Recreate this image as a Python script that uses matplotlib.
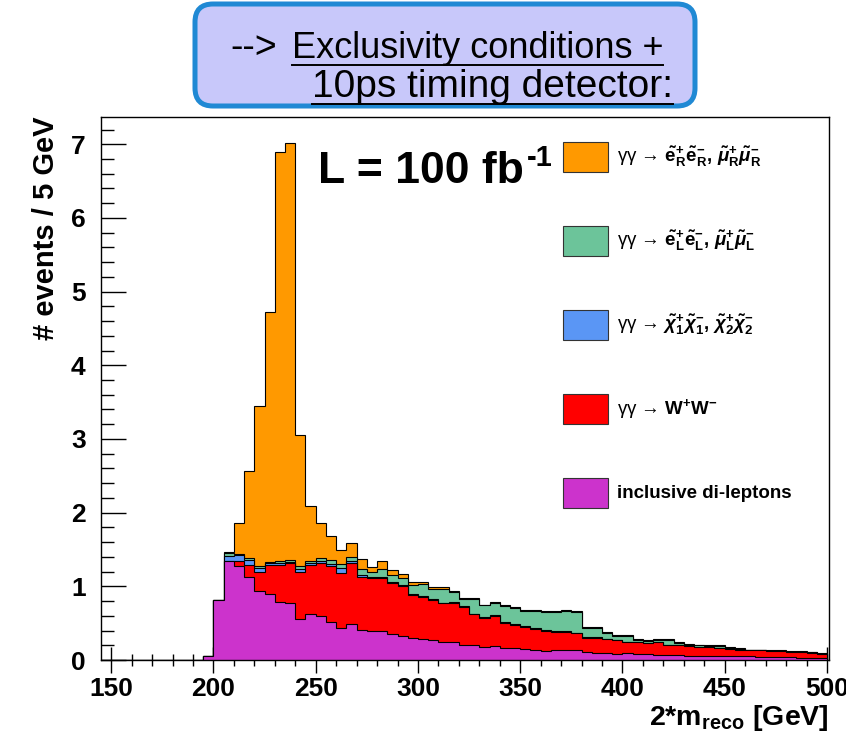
"""Stacked 2*m_reco spectrum after exclusivity cuts + 10ps timing (L = 100 fb^-1)."""

import numpy as np
import matplotlib

matplotlib.use("Agg")
import matplotlib.pyplot as plt  # noqa: E402
from matplotlib.patches import FancyBboxPatch, Rectangle  # noqa: E402
from matplotlib.ticker import MultipleLocator  # noqa: E402

plt.rcParams["font.family"] = ["Liberation Sans", "DejaVu Sans"]
plt.rcParams["font.weight"] = "bold"
plt.rcParams["axes.labelweight"] = "bold"
plt.rcParams["mathtext.fontset"] = "custom"
plt.rcParams["mathtext.rm"] = "Liberation Sans"
plt.rcParams["mathtext.bf"] = "Liberation Sans:bold"
plt.rcParams["mathtext.it"] = "Liberation Sans:italic"

# bins of 5 GeV, 145 -> 500
BIN_LO, BIN_HI, BIN_W = 145, 500, 5

# events / 5 GeV per process (bins 145..495)
dilep = [0, 0, 0, 0, 0, 0, 0, 0, 0, 0,
         .06, .82, 1.34, 1.27, 1.13, .93, .90, .79, .77, .55,
         .63, .60, .52, .43, .49, .41, .39, .39, .35, .32,
         .30, .29, .27, .25, .25, .21, .20, .18, .19, .16,
         .16, .15, .14, .12, .14, .13, .13, .11, .10, .09,
         .08, .09, .08, .08, .07, .07, .07, .06, .06, .06,
         .05, .05, .05, .05, .04, .04, .04, .04, .03, .03, .03]
ww = [0, 0, 0, 0, 0, 0, 0, 0, 0, 0,
      0, 0, .01, .08, .16, .27, .39, .50, .54, .65,
      .66, .72, .75, .75, .82, .72, .72, .72, .69, .68,
      .58, .57, .55, .52, .53, .51, .42, .39, .41, .34,
      .32, .30, .28, .28, .24, .25, .23, .19, .20, .19,
      .19, .15, .16, .15, .17, .14, .14, .13, .12, .11,
      .11, .10, .09, .08, .09, .08, .08, .07, .08, .07, .05]
chargino = [0, 0, 0, 0, 0, 0, 0, 0, 0, 0,
            0, 0, .06, .07, .07, .05, .02, .02, .02, .04,
            .02, .03, .03, .07, .03, .03, .02, .02, .02, .02,
            .02, .01, .01, .01, .01, .01, .01, .01, .01, .01,
            .01, .01, .01, .01, .01, .01, .01, .01, .01, .01,
            0, 0, 0, 0, 0, 0, 0, 0, 0, 0,
            0, 0, 0, 0, 0, 0, 0, 0, 0, 0, 0]
slep_L = [0, 0, 0, 0, 0, 0, 0, 0, 0, 0,
          0, 0, .04, .02, .02, .02, .02, .03, .03, .03,
          .04, .03, .06, .05, .06, .08, .07, .11, .09, .09,
          .12, .16, .14, .19, .13, .10, .20, .16, .17, .22,
          .22, .21, .24, .24, .26, .28, .28, .13, .13, .08,
          .06, .09, .03, .03, .03, .06, .02, .02, .02, .02,
          .03, .01, .01, .005, .005, .005, .005, .005, .005, .005, .005]
slep_R = [0, 0, 0, 0, 0, 0, 0, 0, 0, 0,
          0, 0, .02, .42, 1.18, 2.18, 3.39, 5.56, 5.66, 1.78,
          .74, .48, .32, .19, .19, .13, .06, .10, .07, .06,
          .04, .03, .02, .02, .01, .01, .01, .01, .01, .01,
          .01, .01, .01, .01, .01, .01, .01, .01, .01, .01,
          .01, .01, .01, .01, .01, .01, .01, .01, .01, .01,
          .01, .01, .01, .005, .005, .005, .005, .005, .005, .005, .005]

# stack order bottom -> top: (values, colour, legend label, label weight)
LAYERS = [
    (dilep, "#CC33CC", "inclusive di-leptons", "bold"),
    (ww, "#FF0000", r"γγ → $\mathbf{W}^{\mathbf{+}}\mathbf{W}^{\mathbf{-}}$", "normal"),
    (chargino, "#5A96F5",
     r"γγ → $\tilde{\chi}^{+}_{1}\tilde{\chi}^{-}_{1},\,\tilde{\chi}^{+}_{2}\tilde{\chi}^{-}_{2}$", "normal"),
    (slep_L, "#6CC49A",
     r"γγ → $\tilde{\mathbf{e}}^{+}_{\mathbf{L}}\tilde{\mathbf{e}}^{-}_{\mathbf{L}},"
     r"\,\tilde{\mu}^{+}_{\mathbf{L}}\tilde{\mu}^{-}_{\mathbf{L}}$", "normal"),
    (slep_R, "#FF9900",
     r"γγ → $\tilde{\mathbf{e}}^{+}_{\mathbf{R}}\tilde{\mathbf{e}}^{-}_{\mathbf{R}},"
     r"\,\tilde{\mu}^{+}_{\mathbf{R}}\tilde{\mu}^{-}_{\mathbf{R}}$", "normal"),
]


def main() -> None:
    W, H = 846, 745
    fig = plt.figure(figsize=(W / 100, H / 100), dpi=100)
    ax = fig.add_axes([101 / W, 1 - 660 / H, 728 / W, 543 / H])

    edges = np.arange(BIN_LO, BIN_HI + BIN_W, BIN_W)
    cum = np.cumsum(np.array([l[0] for l in LAYERS], dtype=float), axis=0)
    # ROOT style: draw the partial sums from the top one down, each filled from 0
    for k in range(len(LAYERS) - 1, -1, -1):
        ax.stairs(cum[k], edges, baseline=0, fill=True, facecolor=LAYERS[k][1],
                  edgecolor="black", linewidth=0.8)

    ax.set_xlim(145, 501)
    ax.set_ylim(0, 7.37)
    ax.set_axisbelow(True)
    ax.xaxis.set_major_locator(MultipleLocator(50))
    ax.xaxis.set_minor_locator(MultipleLocator(10))
    ax.yaxis.set_major_locator(MultipleLocator(1))
    ax.yaxis.set_minor_locator(MultipleLocator(0.2))
    ax.tick_params(axis="x", which="major", direction="inout", length=19, width=1, labelsize=19, pad=3)
    ax.tick_params(axis="x", which="minor", direction="inout", length=9, width=1)
    ax.tick_params(axis="y", which="major", direction="in", length=18, width=1, labelsize=19, pad=11)
    ax.tick_params(axis="y", which="minor", direction="in", length=9, width=1)
    for s in ax.spines.values():
        s.set_linewidth(1.0)

    ax.set_ylabel("# events / 5 GeV", fontsize=21, loc="top")
    ax.yaxis.set_label_coords(-0.056, 1.0)
    ax.set_xlabel(r"2*m$_{\mathbf{reco}}$ [GeV]", fontsize=20.5, loc="right")
    ax.xaxis.set_label_coords(1.0, -0.08)

    # overlay in pixel coordinates for the annotations
    ov = fig.add_axes([0, 0, 1, 1], zorder=5)
    ov.set_xlim(0, W)
    ov.set_ylim(H, 0)
    ov.axis("off")

    lum = ov.text(318, 183, "L = 100 fb", fontsize=32, ha="left", va="baseline")

    # legend
    for i, k in enumerate(range(len(LAYERS) - 1, -1, -1)):
        top = 142 + i * 84
        ov.add_patch(Rectangle((563, top), 45, 30, facecolor=LAYERS[k][1],
                               edgecolor="#333333", linewidth=0.8))
        ov.text(617, top + 15, LAYERS[k][2], fontsize=13.5, fontweight=LAYERS[k][3],
                ha="left", va="center")

    # title box
    ov.add_patch(FancyBboxPatch((195, 4), 500, 102, boxstyle="round,pad=0,rounding_size=18",
                                facecolor="#C8C8FA", edgecolor="#2089D4", linewidth=3.6,
                                clip_on=False))
    ov.text(230, 58, "-->", fontsize=27, fontweight="normal", ha="left", va="baseline")
    t1 = ov.text(292, 58, "Exclusivity conditions +", fontsize=26, fontweight="normal",
                 ha="left", va="baseline")
    t2 = ov.text(312, 97, "10ps timing detector:", fontsize=28, fontweight="normal",
                 ha="left", va="baseline")
    fig.canvas.draw()
    rend = fig.canvas.get_renderer()
    inv = ov.transData.inverted()
    for t, yl in ((t1, 65), (t2, 104)):
        bb = t.get_window_extent(rend)
        x0 = inv.transform((bb.x0, bb.y0))[0]
        x1 = inv.transform((bb.x1, bb.y0))[0]
        ov.plot([x0, x1], [yl, yl], color="black", linewidth=1.4)

    # superscript of the luminosity, placed after "fb"
    bb = lum.get_window_extent(rend)
    xe = inv.transform((bb.x1, bb.y0))[0]
    ov.text(xe + 3, 166, "-1", fontsize=21, ha="left", va="baseline")

    fig.savefig("out.png", dpi=100)
    plt.close(fig)


if __name__ == "__main__":
    main()
